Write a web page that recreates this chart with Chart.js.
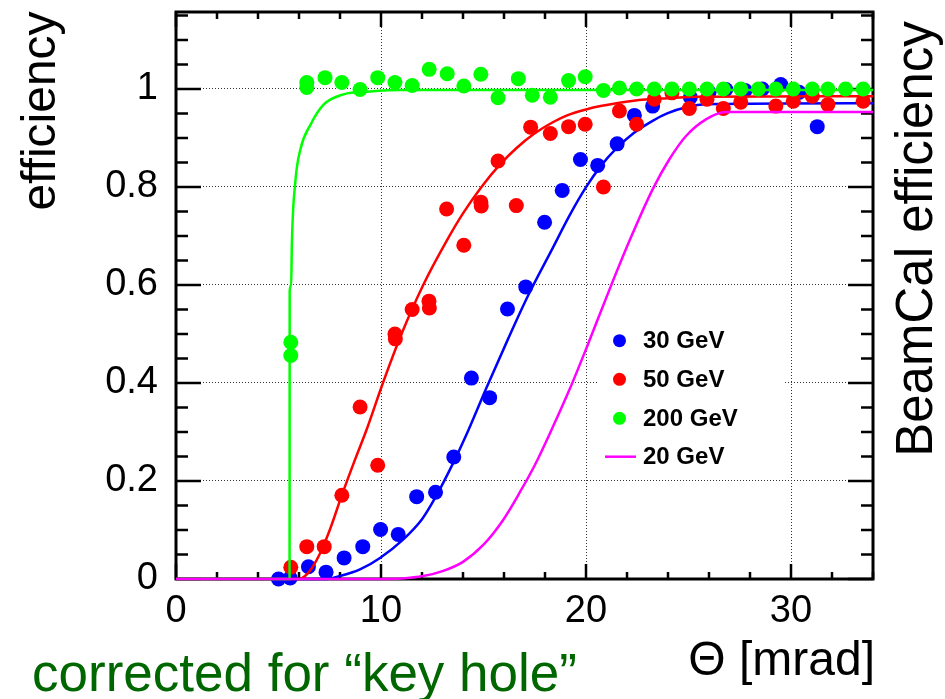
<!DOCTYPE html>
<html>
<head>
<meta charset="utf-8">
<title>BeamCal efficiency</title>
<script src="https://cdn.jsdelivr.net/npm/chart.js@4.4.1/dist/chart.umd.min.js"></script>
<style>
  html, body { margin: 0; padding: 0; background: #fff; }
  #wrap { width: 945px; height: 699px; }
</style>
</head>
<body>
<div id="wrap"><canvas id="effChart" width="945" height="699"></canvas></div>
<script>
// measured efficiency per theta bin
const theta30 = [5.0, 5.57, 6.46, 7.32, 8.2, 9.11, 9.98, 10.84, 11.74, 12.66, 13.55, 14.41, 15.3, 16.17, 17.06, 17.98, 18.84, 19.73, 20.57, 21.52, 22.36, 23.25, 25.09, 26.0, 26.82, 27.76, 28.6, 29.5, 30.39, 31.28];
const eff30 = [0.0, 0.002, 0.025, 0.014, 0.043, 0.066, 0.101, 0.091, 0.168, 0.177, 0.249, 0.41, 0.37, 0.551, 0.596, 0.728, 0.793, 0.856, 0.844, 0.888, 0.946, 0.965, 0.983, 0.993, 0.999, 0.997, 1.0, 1.009, 0.993, 0.923];

const theta50 = [5.6, 6.38, 7.23, 8.09, 8.98, 9.84, 10.68, 10.7, 11.52, 12.34, 12.36, 13.2, 14.04, 14.87, 14.89, 15.71, 16.6, 17.3, 18.26, 19.15, 19.96, 20.85, 21.63, 22.47, 23.33, 24.19, 25.04, 25.9, 26.7, 27.55, 29.26, 30.11, 31.04, 31.8, 33.52];
const eff50 = [0.024, 0.066, 0.066, 0.171, 0.351, 0.232, 0.5, 0.49, 0.55, 0.567, 0.553, 0.755, 0.681, 0.769, 0.761, 0.853, 0.762, 0.922, 0.909, 0.923, 0.928, 0.8, 0.955, 0.928, 0.979, 0.992, 0.96, 0.979, 0.96, 0.973, 0.965, 0.975, 0.985, 0.968, 0.975];

const theta200 = [5.6, 5.6, 6.38, 6.38, 7.27, 8.09, 8.98, 9.84, 10.68, 11.52, 12.35, 13.23, 14.04, 14.87, 15.71, 16.7, 17.38, 18.26, 19.15, 19.96, 20.85, 21.63, 22.47, 23.33, 24.19, 25.04, 25.9, 26.7, 27.55, 28.41, 29.26, 30.11, 31.04, 31.8, 32.66, 33.52];
const eff200 = [0.483, 0.456, 1.013, 1.003, 1.023, 1.013, 0.999, 1.023, 1.013, 1.007, 1.04, 1.031, 1.006, 1.03, 0.982, 1.021, 0.987, 0.983, 1.017, 1.025, 0.997, 1.002, 1.0, 1.0, 1.0, 1.0, 1.0, 1.0, 1.0, 1.0, 1.0, 1.0, 1.0, 1.0, 1.0, 1.0];

// fitted turn-on curves
const fit30X = [0, 7.3, 8.0, 9.0, 9.95, 11.09, 12.0, 12.66, 13.5, 14.17, 15.14, 16.2, 17.17, 18.31, 19.24, 20.01, 20.71, 21.47, 22.33, 23.25, 23.96, 24.93, 25.85, 34];
const fit30Y = [0, 0, 0.006, 0.02, 0.043, 0.081, 0.122, 0.167, 0.235, 0.295, 0.39, 0.49, 0.578, 0.67, 0.745, 0.8, 0.842, 0.878, 0.91, 0.935, 0.95, 0.963, 0.969, 0.971];

const fit50X = [0, 6.0, 6.5, 7.0, 7.5, 8.09, 8.7, 9.3, 10.11, 11.0, 12.06, 13.27, 14.0, 14.9, 15.83, 16.6, 17.45, 18.38, 19.08, 20.0, 20.71, 22.33, 23.96, 25.6, 34];
const fit50Y = [0, 0, 0.015, 0.05, 0.1, 0.171, 0.24, 0.305, 0.402, 0.5, 0.6, 0.695, 0.746, 0.8, 0.847, 0.879, 0.908, 0.932, 0.946, 0.958, 0.965, 0.976, 0.981, 0.984, 0.985];

const fit200X = [0, 5.54, 5.545, 5.62, 5.65, 5.82, 6.07, 6.56, 7.2, 8.17, 9.47, 11.08, 34];
const fit200Y = [0, 0, 0.587, 0.6, 0.68, 0.81, 0.877, 0.927, 0.968, 0.989, 0.995, 0.998, 0.998];

const fit20X = [0, 10.1, 11, 12.06, 13, 14, 15, 15.95, 16.76, 17.5, 18.38, 19.2, 20.01, 21.14, 22.12, 23.25, 24.06, 24.88, 25.85, 26.82, 34];
const fit20Y = [0, 0, 0.001, 0.006, 0.016, 0.035, 0.07, 0.12, 0.176, 0.232, 0.31, 0.387, 0.47, 0.59, 0.69, 0.795, 0.856, 0.904, 0.938, 0.953, 0.953];

// axis ticks
const xTickLabels = [0, 10, 20, 30];
const yTickLabels = [0, 0.2, 0.4, 0.6, 0.8, 1];

const xTicks = [];
for (let i = 0; i <= 17; i++) xTicks.push(i * 2);
const yTicks = [];
for (let i = 0; i <= 23; i++) yTicks.push(+(i * 0.05).toFixed(2));

const FONT = "'Liberation Sans', Arial, Helvetica, sans-serif";
Chart.defaults.font.family = FONT;

const pts = (xs, ys) => xs.map((x, i) => ({ x: x, y: ys[i] }));

function markerSet(label, xs, ys, color, order) {
  return {
    label: label,
    data: pts(xs, ys),
    showLine: false,
    pointRadius: 7.5,
    pointBorderWidth: 0,
    pointBackgroundColor: color,
    backgroundColor: color,
    borderColor: color,
    order: order,
    clip: 12,
  };
}

function curveSet(label, xs, ys, color, order) {
  return {
    label: label,
    data: pts(xs, ys),
    showLine: true,
    pointRadius: 0,
    borderColor: color,
    borderWidth: 2.5,
    cubicInterpolationMode: "monotone",
    order: order,
    clip: 12,
  };
}

// frame with ROOT-style inward ticks on all four sides, plus legend panel
const frameTicks = {
  id: "frameTicks",
  beforeDatasetsDraw(chart) {
    const { ctx, chartArea: a, scales } = chart;
    const x = scales.x, y = scales.y;
    ctx.save();

    // legend panel covers the grid behind it
    ctx.fillStyle = "#fff";
    ctx.fillRect(597, 300, 186, 175);

    ctx.strokeStyle = "#000";
    ctx.lineWidth = 2.5;
    ctx.beginPath();
    x.ticks.forEach((t) => {
      const px = x.getPixelForValue(t.value);
      const len = xTickLabels.includes(t.value) ? 15 : 7;
      ctx.moveTo(px, a.bottom); ctx.lineTo(px, a.bottom - len);
      ctx.moveTo(px, a.top); ctx.lineTo(px, a.top + len);
    });
    y.ticks.forEach((t) => {
      const py = y.getPixelForValue(t.value);
      const len = yTickLabels.includes(t.value) ? 25 : 12;
      ctx.moveTo(a.left, py); ctx.lineTo(a.left + len, py);
      ctx.moveTo(a.right, py); ctx.lineTo(a.right - len, py);
    });
    ctx.stroke();

    ctx.lineWidth = 3;
    ctx.strokeRect(a.left, a.top, a.right - a.left, a.bottom - a.top);
    ctx.restore();
  },
  afterDatasetsDraw(chart) {
    const ctx = chart.ctx;
    ctx.save();
    ctx.font = "bold 24px " + FONT;
    ctx.textBaseline = "middle";
    ctx.textAlign = "left";
    const rows = [340.7, 379.3, 418.3, 456.7];
    const entries = [chart.data.datasets[5], chart.data.datasets[3], chart.data.datasets[1], chart.data.datasets[0]];
    entries.forEach((ds, i) => {
      const cy = rows[i];
      if (ds.showLine) {
        ctx.strokeStyle = ds.borderColor;
        ctx.lineWidth = 2.5;
        ctx.beginPath();
        ctx.moveTo(605, cy); ctx.lineTo(636, cy);
        ctx.stroke();
      } else {
        ctx.fillStyle = ds.pointBackgroundColor;
        ctx.beginPath();
        ctx.arc(619.5, cy, 6.5, 0, Math.PI * 2);
        ctx.fill();
      }
      ctx.fillStyle = "#000";
      ctx.fillText(ds.label, 643, cy + 1);
    });
    ctx.restore();
  },
  afterDraw(chart) {
    const ctx = chart.ctx;
    ctx.save();
    ctx.fillStyle = "#000";
    ctx.textAlign = "center";
    ctx.textBaseline = "middle";

    ctx.font = "48px " + FONT;
    ctx.save();
    ctx.translate(42, 111);
    ctx.rotate(-Math.PI / 2);
    ctx.fillText("efficiency", 0, 0);
    ctx.restore();

    ctx.font = "51px " + FONT;
    ctx.save();
    ctx.translate(918, 239);
    ctx.rotate(-Math.PI / 2);
    ctx.fillText("BeamCal efficiency", 0, 0);
    ctx.restore();

    ctx.textBaseline = "alphabetic";
    ctx.textAlign = "right";
    ctx.font = "48px " + FONT;
    ctx.fillText("\u0398 [mrad]", 875, 675);

    ctx.textAlign = "left";
    ctx.fillStyle = "#006600";
    ctx.font = "53px " + FONT;
    ctx.fillText("corrected for \u201ckey hole\u201d", 32, 691);
    ctx.restore();
  },
};

const gridColorX = (c) => (c.tick && xTickLabels.includes(c.tick.value) && c.tick.value > 0 ? "#333" : "rgba(0,0,0,0)");
const gridColorY = (c) => (c.tick && yTickLabels.includes(c.tick.value) && c.tick.value > 0 ? "#333" : "rgba(0,0,0,0)");

new Chart(document.getElementById("effChart"), {
  type: "scatter",
  data: {
    datasets: [
      curveSet("20 GeV", fit20X, fit20Y, "#ff00ff", 0),
      markerSet("200 GeV", theta200, eff200, "#00ff00", 1),
      curveSet("200 GeV fit", fit200X, fit200Y, "#00ff00", 2),
      markerSet("50 GeV", theta50, eff50, "#ff0000", 3),
      curveSet("50 GeV fit", fit50X, fit50Y, "#ff0000", 4),
      markerSet("30 GeV", theta30, eff30, "#0000ff", 5),
      curveSet("30 GeV fit", fit30X, fit30Y, "#0000ff", 6),
    ],
  },
  options: {
    responsive: false,
    animation: false,
    events: [],
    layout: { padding: { left: 0, right: 72, top: 12, bottom: 0 } },
    plugins: { legend: { display: false }, tooltip: { enabled: false } },
    scales: {
      x: {
        type: "linear",
        min: 0,
        max: 34,
        afterBuildTicks: (axis) => { axis.ticks = xTicks.map((v) => ({ value: v })); },
        afterFit: (axis) => {
          axis.height = 120;
          axis.paddingLeft = 0;
          axis.paddingRight = 0;
        },
        ticks: {
          autoSkip: false,
          maxRotation: 0,
          padding: 10,
          color: "#000",
          font: { size: 38 },
          callback: (v) => (xTickLabels.includes(v) ? String(v) : ""),
        },
        grid: { color: gridColorX, lineWidth: 1, drawTicks: false },
        border: { display: false, dash: [1, 2] },
      },
      y: {
        type: "linear",
        min: 0,
        max: 1.157,
        afterBuildTicks: (axis) => { axis.ticks = yTicks.map((v) => ({ value: v })); },
        afterFit: (axis) => {
          axis.width = 176;
          axis.paddingTop = 0;
          axis.paddingBottom = 0;
        },
        ticks: {
          autoSkip: false,
          padding: 18,
          color: "#000",
          font: { size: 38 },
          callback: (v) => (yTickLabels.includes(v) ? String(v) : ""),
        },
        grid: { color: gridColorY, lineWidth: 1, drawTicks: false },
        border: { display: false, dash: [1, 2] },
      },
    },
  },
  plugins: [frameTicks],
});
</script>
</body>
</html>
